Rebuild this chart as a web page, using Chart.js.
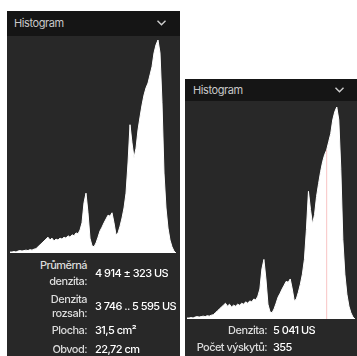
<!DOCTYPE html>
<html>
<head>
<meta charset="utf-8">
<script src="https://cdn.jsdelivr.net/npm/chart.js@4"></script>
<style>
  html, body { margin: 0; padding: 0; background: #fff; width: 357px; height: 356px; overflow: hidden; }
  body { position: relative; font-family: Inter, Roboto, sans-serif; }
  .panel { position: absolute; background: #282828; }
  .head { position: absolute; left: 0; top: 0; right: 0; background: #151515; color: #c9c9c9; font-size: 11px; letter-spacing: -0.4px; }
  .head svg { position: absolute; }
  .panel canvas { position: absolute; }
  .t { position: absolute; font-size: 11px; line-height: 12px; letter-spacing: -0.55px; white-space: nowrap; font-weight: 500; }
  .lbl { color: #dcdcdc; text-align: right; }
  .val { color: #fff; }
</style>
</head>
<body>

<div class="panel" id="leftPanel" style="left:7px; top:11px; width:173px; height:345px;">
  <div class="head" style="height:25px; line-height:25px; padding-left:7px;">Histogram
    <svg style="left:150px; top:9px;" width="9" height="6" viewBox="0 0 9 6"><polyline points="0.5,0.8 4.5,4.8 8.5,0.8" fill="none" stroke="#cfcfcf" stroke-width="1.4"/></svg>
  </div>
  <canvas id="histLeft" width="166" height="213" style="left:3px; top:29px;"></canvas>
</div>

<div class="panel" id="rightPanel" style="left:185px; top:79px; width:172px; height:277px;">
  <div class="head" style="height:22px; line-height:22px; padding-left:8px;">Histogram
    <svg style="left:150px; top:8px;" width="9" height="6" viewBox="0 0 9 6"><polyline points="0.5,0.8 4.5,4.8 8.5,0.8" fill="none" stroke="#cfcfcf" stroke-width="1.4"/></svg>
  </div>
  <canvas id="histRight" width="168" height="212" style="left:2px; top:28px;"></canvas>
</div>

<!-- left stats -->
<div class="t lbl" style="right:270px; top:259px;">Průměrná</div>
<div class="t lbl" style="right:270px; top:275px;">denzita:</div>
<div class="t val" style="left:95px; top:267px;">4 914 ± 323 US</div>
<div class="t lbl" style="right:270px; top:293px;">Denzita</div>
<div class="t lbl" style="right:270px; top:307px;">rozsah:</div>
<div class="t val" style="left:95px; top:300px;">3 746 .. 5 595 US</div>
<div class="t lbl" style="right:270px; top:324px;">Plocha:</div>
<div class="t val" style="left:95px; top:324px;">31,5 cm²</div>
<div class="t lbl" style="right:270px; top:343px;">Obvod:</div>
<div class="t val" style="left:95px; top:343px;">22,72 cm</div>

<!-- right stats -->
<div class="t lbl" style="right:90px; top:324px;">Denzita:</div>
<div class="t val" style="left:273px; top:324px;">5 041 US</div>
<div class="t lbl" style="right:90px; top:341px;">Počet výskytů:</div>
<div class="t val" style="left:273px; top:341px;">355</div>

<script>
// histogram bins (density in US), counts
const binStart = 3109;
const binWidth = 28;
const counts = [
  2, 2, 3, 2, 4, 5, 4, 5, 6, 5,
  7, 6, 8, 9, 13, 17, 21, 25, 29, 33,
  27, 31, 25, 29, 27, 31, 29, 33, 31, 36,
  33, 38, 36, 42, 40, 48, 63, 105, 125, 84,
  31, 15, 13, 21, 33, 46, 54, 63, 71, 79,
  77, 84, 63, 38, 42, 56, 73, 94, 125, 188,
  268, 230, 199, 219, 257, 284, 309, 330, 345, 355,
  372, 389, 418, 435, 445, 418, 314, 167, 94, 52,
  27, 13, 4, 0
];
const selectedDensity = 5041;
const selectedCount = 355;

const maxCount = Math.max(...counts);
const points = counts.map((c, i) => ({ x: binStart + i * binWidth, y: c }));

function histogramConfig(withMarker) {
  const datasets = [];
  if (withMarker) {
    datasets.push({
      data: [{ x: selectedDensity, y: 0 }, { x: selectedDensity, y: selectedCount }],
      borderColor: 'rgba(230, 60, 60, 0.3)',
      borderWidth: 1,
      pointRadius: 0,
      fill: false
    });
  }
  datasets.push({
    data: points,
    borderColor: '#ffffff',
    borderWidth: 1,
    backgroundColor: '#ffffff',
    pointRadius: 0,
    tension: 0,
    fill: 'origin'
  });
  return {
    type: 'line',
    data: { datasets },
    options: {
      responsive: false,
      animation: false,
      devicePixelRatio: 1,
      clip: false,
      layout: { padding: 0 },
      plugins: { legend: { display: false }, tooltip: { enabled: false } },
      scales: {
        x: { type: 'linear', display: false, min: binStart, max: binStart + (counts.length - 1) * binWidth },
        y: { display: false, min: 0, max: maxCount }
      }
    }
  };
}

new Chart(document.getElementById('histLeft'), histogramConfig(false));
new Chart(document.getElementById('histRight'), histogramConfig(true));
</script>
</body>
</html>
